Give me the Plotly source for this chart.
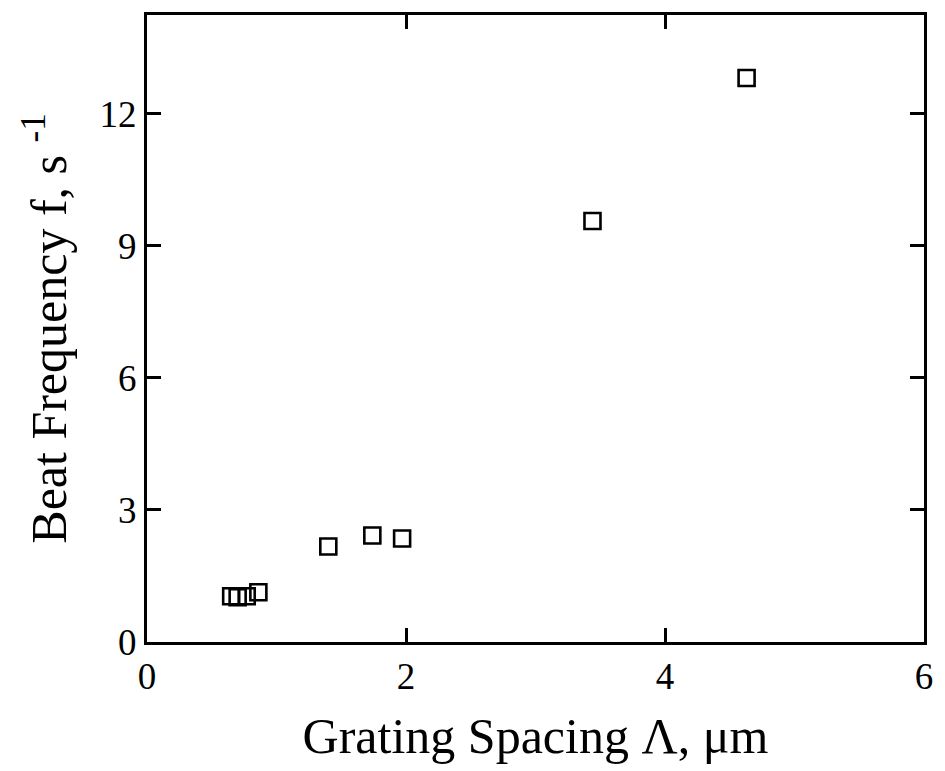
import plotly.graph_objects as go

# Grating spacing (um) and measured beat frequency (1/s)
grating_spacing = [0.65, 0.70, 0.77, 0.86, 1.40, 1.74, 1.97, 3.44, 4.63]
beat_frequency = [1.04, 1.02, 1.04, 1.13, 2.17, 2.42, 2.35, 9.56, 12.81]

x_ticks = [0, 2, 4, 6]
y_ticks = [0, 3, 6, 9, 12]

font_family = "Liberation Serif, Times New Roman, serif"

fig = go.Figure()
fig.add_trace(go.Scatter(
    x=grating_spacing,
    y=beat_frequency,
    mode="markers",
    marker=dict(symbol="square-open", size=16, color="black",
                line=dict(width=2.6, color="black")),
    showlegend=False,
))

axis_common = dict(
    showline=True, linecolor="black", linewidth=3, mirror="ticks",
    ticks="inside", ticklen=14, tickwidth=2.5, tickcolor="black",
    showgrid=False, zeroline=False,
    tickfont=dict(family=font_family, size=37, color="black"),
)

fig.update_xaxes(
    range=[0, 6], tickvals=x_ticks, ticktext=[str(v) for v in x_ticks],
    title=dict(text="Grating Spacing Λ, μm",
               font=dict(family=font_family, size=50, color="black"),
               standoff=22),
    **axis_common,
)
fig.update_yaxes(
    range=[0, 14.24], tickvals=y_ticks, ticktext=[str(v) for v in y_ticks],
    title=dict(text="Beat Frequency f, s <sup>-1</sup>",
               font=dict(family=font_family, size=50, color="black"),
               standoff=18),
    **axis_common,
)

fig.update_layout(
    width=945, height=771,
    margin=dict(l=147, r=13, t=12, b=129),
    paper_bgcolor="white", plot_bgcolor="white",
)

fig.write_html("out.html")
